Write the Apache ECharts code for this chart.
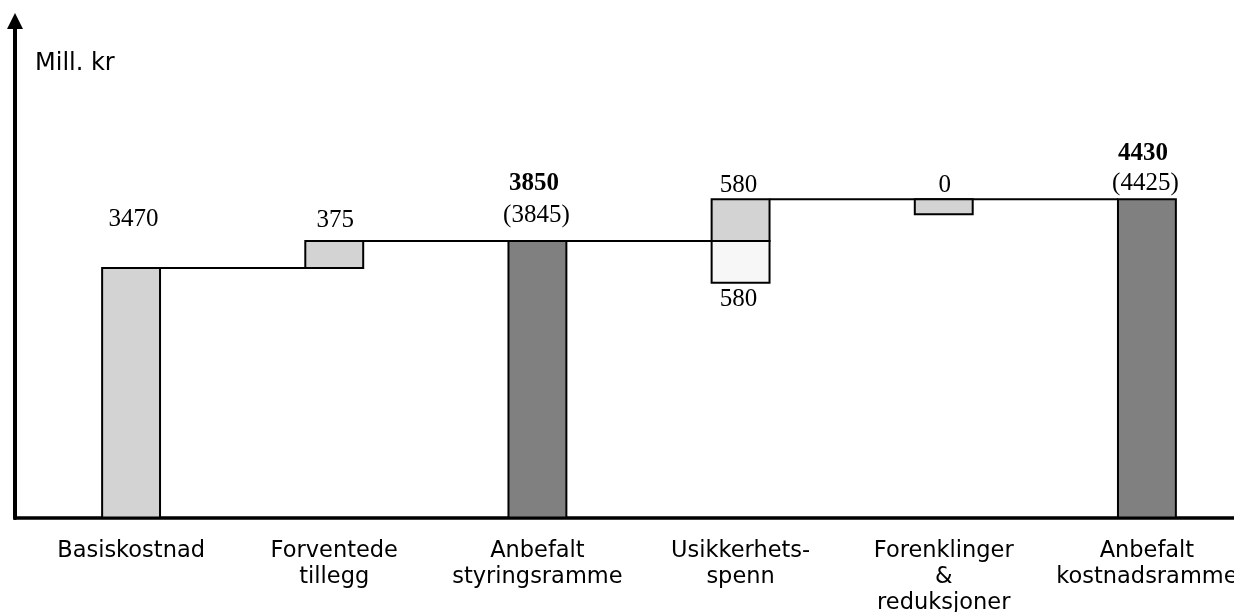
<!DOCTYPE html>
<html>
<head>
<meta charset="utf-8">
<script src="https://cdn.jsdelivr.net/npm/echarts@6/dist/echarts.min.js"></script>
<style>
  html, body { margin: 0; padding: 0; background: #ffffff; }
  #chart { width: 1234px; height: 612px; }
</style>
</head>
<body>
<div id="chart"></div>
<script>
// Cost build-up (Mill. kr)
const categories = ['Basiskostnad', 'Forventede\ntillegg', 'Anbefalt\nstyringsramme', 'Usikkerhets-\nspenn', 'Forenklinger\n&\nreduksjoner', 'Anbefalt\nkostnadsramme'];

const baseCost = 3470;
const expectedAdditions = 375;
const uncertaintyUp = 580;
const uncertaintyDown = 580;
const simplifications = 0;
const simplificationBand = 210;
const managementFrame = baseCost + expectedAdditions;       // 3845
const costFrame = managementFrame + uncertaintyUp;            // 4425
const managementFrameRounded = 3850;
const costFrameRounded = 4430;

// Boxes: category index, lower value, upper value, fill kind
const boxCategory = [0, 1, 2, 3, 3, 4, 5];
const boxLow  = [0, baseCost, 0, managementFrame, managementFrame - uncertaintyDown, costFrame - simplificationBand, 0];
const boxHigh = [baseCost, managementFrame, managementFrame, costFrame, managementFrame, costFrame, costFrame];
const boxKind = ['light', 'light', 'dark', 'light', 'pale', 'light', 'dark'];

// Level lines joining the boxes: from category, to category, value
const linkFrom = [0, 1, 3];
const linkTo = [1, 3, 5];
const linkValue = [baseCost, managementFrame, costFrame];

// Value labels: category index, anchor value, text, bold
const labelCategory = [0, 1, 2, 2, 3, 3, 4, 5, 5];
const labelAnchor = [baseCost, managementFrame, managementFrame, managementFrame, costFrame, managementFrame - uncertaintyDown, costFrame, costFrame, costFrame];
const labelText = [String(baseCost), String(expectedAdditions), String(managementFrameRounded), '(' + managementFrame + ')',
                   String(uncertaintyUp), String(uncertaintyDown), String(simplifications), String(costFrameRounded), '(' + costFrame + ')'];
const labelBold = [false, false, true, false, false, false, false, true, false];

// Pixel placement of each value label relative to its anchor
const labelDx = [2.5, 1, -3.5, -1, -2, -2, 1, -4, -1.5];
const labelDy = [-48, -20, -57, -25, -14, 17, -14, -46, -16];

const fills = { light: '#d3d3d3', dark: '#808080', pale: '#f7f7f7' };
const BAR_FRACTION = 0.285;

const chart = echarts.init(document.getElementById('chart'), null, { renderer: 'canvas' });

chart.setOption({
  animation: false,
  backgroundColor: '#ffffff',
  title: {
    text: 'Mill. kr',
    left: 35,
    top: 52,
    padding: 0,
    textStyle: { fontFamily: 'DejaVu Sans', fontSize: 24, fontWeight: 'normal', color: '#000' }
  },
  grid: [
    { left: 29.5, top: 14, width: 1219, height: 503.5, outerBoundsMode: 'none', containLabel: false },
    { left: 15, right: 0, top: 21, bottom: 94, outerBoundsMode: 'none', containLabel: false }
  ],
  xAxis: [
    {
      type: 'category', gridIndex: 0, data: categories,
      axisLine: { show: false }, axisTick: { show: false },
      axisLabel: { fontFamily: 'DejaVu Sans', fontSize: 22.5, lineHeight: 26, color: '#000', margin: 21, interval: 0 }
    },
    {
      type: 'value', gridIndex: 1, min: 0, max: 1,
      axisLine: { show: true, lineStyle: { color: '#000', width: 3.5, cap: 'square' } },
      axisTick: { show: false }, axisLabel: { show: false }, splitLine: { show: false }
    }
  ],
  yAxis: [
    { type: 'value', gridIndex: 0, min: 0, max: 7000, show: false },
    {
      type: 'value', gridIndex: 1, min: 0, max: 1,
      axisLine: { show: true, symbol: ['none', 'triangle'], symbolSize: [16, 16], lineStyle: { color: '#000', width: 4 } },
      axisTick: { show: false }, axisLabel: { show: false }, splitLine: { show: false }
    }
  ],
  series: [
    {
      // level lines
      type: 'custom', xAxisIndex: 0, yAxisIndex: 0, z: 2,
      data: linkFrom.map((f, i) => [f, linkTo[i], linkValue[i]]),
      renderItem: function (params, api) {
        const half = api.size([1, 0])[0] * BAR_FRACTION / 2;
        const a = api.coord([api.value(0), api.value(2)]);
        const b = api.coord([api.value(1), api.value(2)]);
        return {
          type: 'line',
          shape: { x1: a[0] + half, y1: a[1], x2: b[0] - half, y2: b[1] },
          style: { stroke: '#000', lineWidth: 2 }
        };
      }
    },
    {
      // boxes
      type: 'custom', xAxisIndex: 0, yAxisIndex: 0, z: 3,
      data: boxCategory.map((c, i) => [c, boxLow[i], boxHigh[i], i]),
      renderItem: function (params, api) {
        const w = api.size([1, 0])[0] * BAR_FRACTION;
        const top = api.coord([api.value(0), api.value(2)]);
        const bottom = api.coord([api.value(0), api.value(1)]);
        return {
          type: 'rect',
          shape: { x: top[0] - w / 2, y: top[1], width: w, height: bottom[1] - top[1] },
          style: { fill: fills[boxKind[api.value(3)]], stroke: '#000', lineWidth: 2 }
        };
      }
    },
    {
      // value labels
      type: 'custom', xAxisIndex: 0, yAxisIndex: 0, z: 4,
      data: labelCategory.map((c, i) => [c, labelAnchor[i], i]),
      renderItem: function (params, api) {
        const i = api.value(2);
        const p = api.coord([api.value(0), api.value(1)]);
        return {
          type: 'text',
          x: p[0] + labelDx[i],
          y: p[1] + labelDy[i],
          style: {
            text: labelText[i],
            fontFamily: 'Liberation Serif',
            fontSize: 25,
            fontWeight: labelBold[i] ? 'bold' : 'normal',
            fill: '#000',
            align: 'center',
            verticalAlign: 'middle'
          }
        };
      }
    }
  ]
});
</script>
</body>
</html>
